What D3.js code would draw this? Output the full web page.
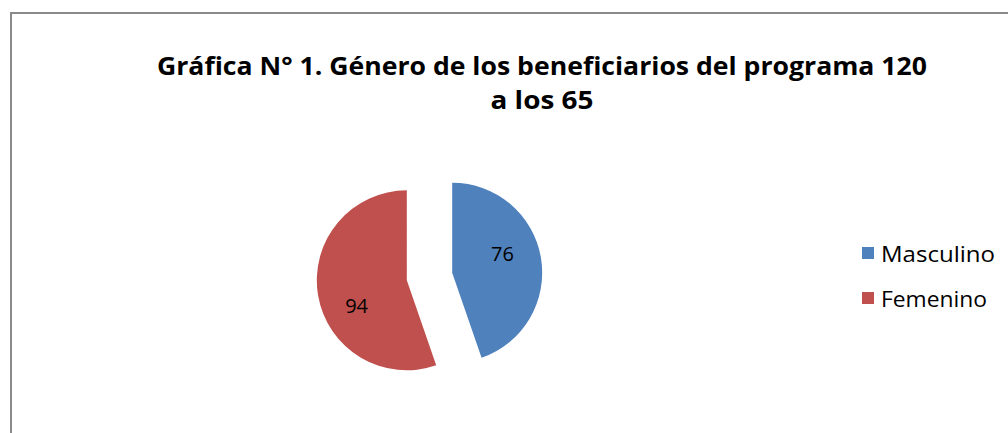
<!DOCTYPE html>
<html>
<head>
<meta charset="utf-8">
<script src="https://cdn.jsdelivr.net/npm/d3@7"></script>
<style>
  html, body { margin: 0; padding: 0; background: #fff; }
  svg { display: block; }
</style>
</head>
<body>
<svg id="chart" width="1008" height="433"></svg>
<script>
const categories = ["Masculino", "Femenino"];
const values = [76, 94];
const colors = ["#4F81BD", "#C0504D"];
const titleLines = ["Gráfica N° 1. Género de los beneficiarios del programa 120", "a los 65"];

const svg = d3.select("#chart");
const W = 1008, H = 433;
const FONT = "'Open Sans', Lato, sans-serif";

// frame
svg.append("path")
  .attr("d", `M11,${H + 5} L11,13 L${W + 5},13`)
  .attr("fill", "none")
  .attr("stroke", "#8a8a8a")
  .attr("stroke-width", 2);

// title
const titleWidths = [770, 103];
const title = svg.append("g")
  .attr("font-family", FONT)
  .attr("font-weight", "bold")
  .attr("font-size", 24.5)
  .attr("fill", "#000");
title.selectAll("text").data(titleLines).join("text")
  .attr("text-anchor", "middle")
  .attr("x", 542)
  .attr("y", (d, i) => 75 + i * 34)
  .attr("textLength", (d, i) => titleWidths[i])
  .attr("lengthAdjust", "spacingAndGlyphs")
  .text(d => d);

// pie
const cx = 429.5, cy = 276.5, r = 90, explode = 23;
const pie = d3.pie().sort(null).value(d => d.v).startAngle(0).endAngle(2 * Math.PI);
const arcs = pie(categories.map((c, i) => ({ c, v: values[i], col: colors[i] })));
const arc = d3.arc().innerRadius(0).outerRadius(r);
const labelShift = -0.25;
const labelArc = d3.arc().innerRadius(r * 0.61).outerRadius(r * 0.61);

const g = svg.append("g").attr("transform", `translate(${cx},${cy})`);
const slices = g.selectAll("g.slice").data(arcs).join("g")
  .attr("class", "slice")
  .attr("transform", d => {
    const a = (d.startAngle + d.endAngle) / 2;
    return `translate(${Math.sin(a) * explode},${-Math.cos(a) * explode})`;
  });
slices.append("path")
  .attr("d", arc)
  .attr("fill", d => d.data.col);
slices.append("text")
  .attr("transform", d => {
    const [x, y] = labelArc.centroid({ startAngle: d.startAngle + labelShift, endAngle: d.endAngle + labelShift });
    return `translate(${x},${y + 3})`;
  })
  .attr("text-anchor", "middle")
  .attr("dy", "0.36em")
  .attr("font-family", FONT)
  .attr("font-size", 20)
  .attr("fill", "#000")
  .text(d => d.data.v);

// legend
const legend = svg.append("g").attr("transform", "translate(862,247)");
const items = legend.selectAll("g").data(categories).join("g")
  .attr("transform", (d, i) => `translate(0,${i * 45})`);
items.append("rect")
  .attr("width", 12).attr("height", 12)
  .attr("fill", (d, i) => colors[i]);
const legendWidths = [114, 106];
items.append("text")
  .attr("x", 19).attr("y", 7)
  .attr("dy", "0.36em")
  .attr("font-family", FONT)
  .attr("font-size", 21.5)
  .attr("textLength", (d, i) => legendWidths[i])
  .attr("lengthAdjust", "spacingAndGlyphs")
  .attr("fill", "#000")
  .text(d => d);
</script>
</body>
</html>
